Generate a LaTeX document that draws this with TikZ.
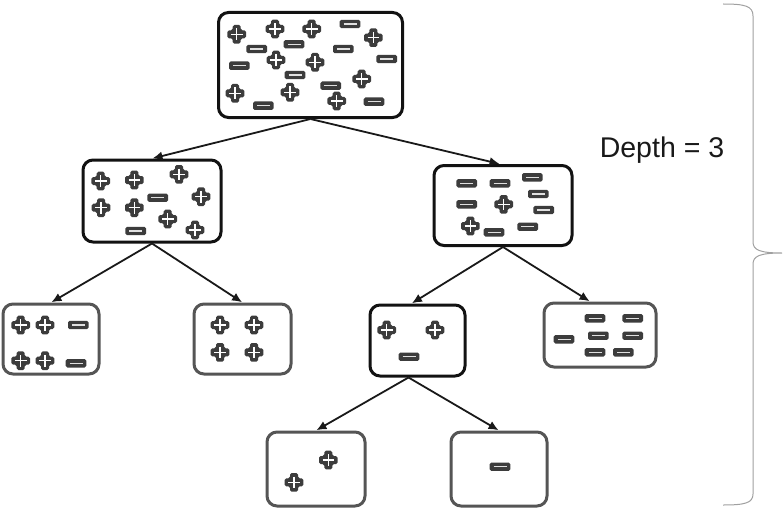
\documentclass[tikz,border=0pt]{standalone}
\usepackage{fontspec}
\setmainfont{Liberation Sans}
\usetikzlibrary{arrows.meta}
\definecolor{icon}{HTML}{3C3C3C}
\definecolor{boxgray}{HTML}{555555}
\definecolor{bracegray}{HTML}{A0A0A0}
\tikzset{
  pplus/.pic={
    \fill[icon, rounded corners=1.6pt] (-4,-9.3) -- (4,-9.3) -- (4,-4) -- (9.3,-4) -- (9.3,4) -- (4,4) -- (4,9.3) -- (-4,9.3) -- (-4,4) -- (-9.3,4) -- (-9.3,-4) -- (-4,-4) -- cycle;
    \draw[white, line width=1.4pt] (-5.8,0) -- (5.8,0) (0,-5.8) -- (0,5.8);
  },
  pminus/.pic={
    \fill[icon, rounded corners=1.6pt] (-10.3,-4.2) rectangle (10.3,4.2);
    \draw[white!88!black, line width=1.5pt] (-6.5,0) -- (6.5,0);
  },
  blackbox/.style={draw=black!93, line width=3pt, rounded corners=10pt, fill=white, inner sep=0pt},
  graybox/.style={draw=boxgray, line width=3pt, rounded corners=10pt, fill=white, inner sep=0pt},
  arr/.style={-{Latex[length=10pt,width=9pt]}, line width=1.8pt, black!90, shorten >=0.5pt},
  brace/.style={draw=bracegray, line width=1pt}
}
\begin{document}
\begin{tikzpicture}[x=1pt,y=-1pt]
\useasboundingbox (0,0) rectangle (783,508);
% boxes
\node[blackbox, minimum width=184pt, minimum height=105pt] (top) at (310.5,65) {};
\node[blackbox, minimum width=138pt, minimum height=82pt] (la) at (152,201) {};
\node[blackbox, minimum width=138pt, minimum height=80pt] (lb) at (503,205.5) {};
\node[graybox, minimum width=96pt, minimum height=70pt] (ta) at (51,339) {};
\node[graybox, minimum width=97pt, minimum height=70pt] (tb) at (242.5,339) {};
\node[blackbox, minimum width=95pt, minimum height=71pt] (tc) at (417.5,340.5) {};
\node[graybox, minimum width=112pt, minimum height=64pt] (td) at (600,335) {};
\node[graybox, minimum width=98pt, minimum height=74pt] (fa) at (316,469) {};
\node[graybox, minimum width=96pt, minimum height=74pt] (fb) at (499,469) {};
% arrows
\draw[arr] (top.south) -- (la.north);
\draw[arr] (top.south) -- ([xshift=-3pt]lb.north);
\draw[arr] (la.south) -- (ta.north);
\draw[arr] (la.south) -- (tb.north);
\draw[arr] (lb.south) -- ([xshift=-6pt]tc.north);
\draw[arr] (lb.south) -- ([xshift=-10pt]td.north);
\draw[arr] ([xshift=-9pt]tc.south) -- (fa.north);
\draw[arr] ([xshift=-9pt]tc.south) -- (fb.north);
% top box icons
\foreach \p in {(236.7,34.3),(275,29),(311.7,29),(373.3,37.7),(276,60),(315,62.3),(361.7,79),(235,93.3),(290,92.3),(336.7,101)}
  \pic at \p {pplus};
\foreach \p in {(350,24),(256.7,49),(294,44.3),(343.3,49),(386.7,59),(239.3,65.7),(295,75),(330.7,85.7),(263.3,105.7),(374,101.7)}
  \pic at \p {pminus};
% left level-2 icons
\foreach \p in {(100.7,181),(134.3,180),(179,174.3),(101,207.7),(134.3,207.7),(201,196.7),(167.7,219),(195,230)}
  \pic at \p {pplus};
\foreach \p in {(157.7,197.7),(135.7,231)}
  \pic at \p {pminus};
% right level-2 icons
\foreach \p in {(466.7,183.3),(500,183.3),(532.3,177.3),(538.3,194),(466.7,204.3),(543.7,210),(494,232.3),(527.7,226.7)}
  \pic at \p {pminus};
\foreach \p in {(503.7,204.3),(470.3,226)}
  \pic at \p {pplus};
% level-3 icons
\foreach \p in {(20.7,325),(45,325),(20.7,360.7),(45,360.7),(220,325),(254,325),(220,352.3),(254,352.3),(386.7,330),(435,330)}
  \pic at \p {pplus};
\foreach \p in {(78.3,325),(76,363.3),(409,356.7),(595,318.3),(632.7,318.3),(564,339.3),(598.3,335.7),(632.7,335.7),(595,352.3),(623.3,352.3)}
  \pic at \p {pminus};
% level-4 icons
\foreach \p in {(328.3,460),(294,482.3)}
  \pic at \p {pplus};
\pic at (500,466.7) {pminus};
% brace
\draw[brace] (723,4) .. controls (745,4) and (753,6) .. (753,16) -- (753,242) .. controls (753,250) and (760,253) .. (782,253) .. controls (760,253) and (753,256) .. (753,264) -- (753,494) .. controls (753,503) and (745,505) .. (723,505);
\node[font=\fontsize{28.5}{32}\selectfont, text=black!90, inner sep=0pt] (depth) at (662,150) {Depth = 3};
\end{tikzpicture}
\end{document}
